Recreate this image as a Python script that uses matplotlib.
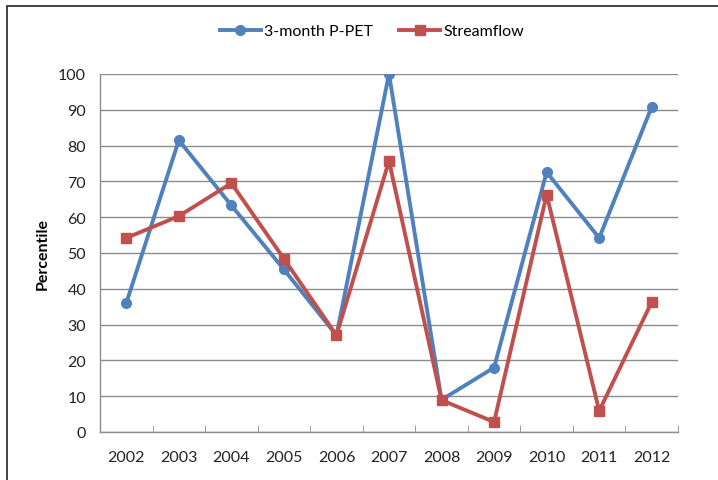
import matplotlib
matplotlib.use("Agg")
import matplotlib.pyplot as plt
from matplotlib.patches import Rectangle

years = ["2002", "2003", "2004", "2005", "2006", "2007", "2008", "2009", "2010", "2011", "2012"]
ppet = [36, 81.5, 63.3, 45.4, 27, 100, 9, 18, 72.6, 54.2, 90.8]
streamflow = [54.2, 60.3, 69.5, 48.4, 27, 75.7, 8.9, 2.8, 66.3, 5.9, 36.3]

plt.rcParams["font.family"] = ["Lato", "DejaVu Sans"]

fig = plt.figure(figsize=(7.18, 4.81), dpi=100)
fig.patches.append(Rectangle((7 / 718, -0.1), 1.2, 1 - 7 / 481 + 0.1,
                             transform=fig.transFigure, fill=False,
                             edgecolor="#222222", linewidth=1.2))

ax = fig.add_axes([100 / 718, 1 - 433 / 481, 578 / 718, 358 / 481])
x = list(range(len(years)))
ax.plot(x, ppet, color="#4F81BD", lw=2.8, marker="o", ms=7, label="3-month P-PET")
ax.plot(x, streamflow, color="#C0504D", lw=2.8, marker="s", ms=7, label="Streamflow")

ax.set_xlim(-0.5, len(years) - 0.5)
ax.set_ylim(0, 100)
ax.set_yticks(range(0, 101, 10))
ax.yaxis.grid(True, color="#8c8c8c", lw=1)
ax.set_axisbelow(True)
for s in ("top", "right"):
    ax.spines[s].set_visible(False)
for s in ("left", "bottom"):
    ax.spines[s].set_color("#8c8c8c")
    ax.spines[s].set_linewidth(1)
ax.tick_params(axis="y", length=0, labelsize=11.5, pad=10, labelcolor="#222222")
ax.set_xticks(x)
ax.set_xticklabels(years)
ax.tick_params(axis="x", which="major", length=0, labelsize=11.5, pad=13, labelcolor="#222222")
ax.set_xticks([i - 0.5 for i in range(len(years) + 1)], minor=True)
ax.tick_params(axis="x", which="minor", length=5, color="#8c8c8c", direction="in")

ax.set_ylabel("Percentile", fontweight="bold", fontsize=11.5, labelpad=6)

fig.legend(loc="center", bbox_to_anchor=(372 / 718, 1 - 32 / 481), ncol=2,
           frameon=False, fontsize=11.5, handlelength=2.6, columnspacing=1.6,
           handletextpad=0.2)

fig.savefig("out.png", dpi=100)
